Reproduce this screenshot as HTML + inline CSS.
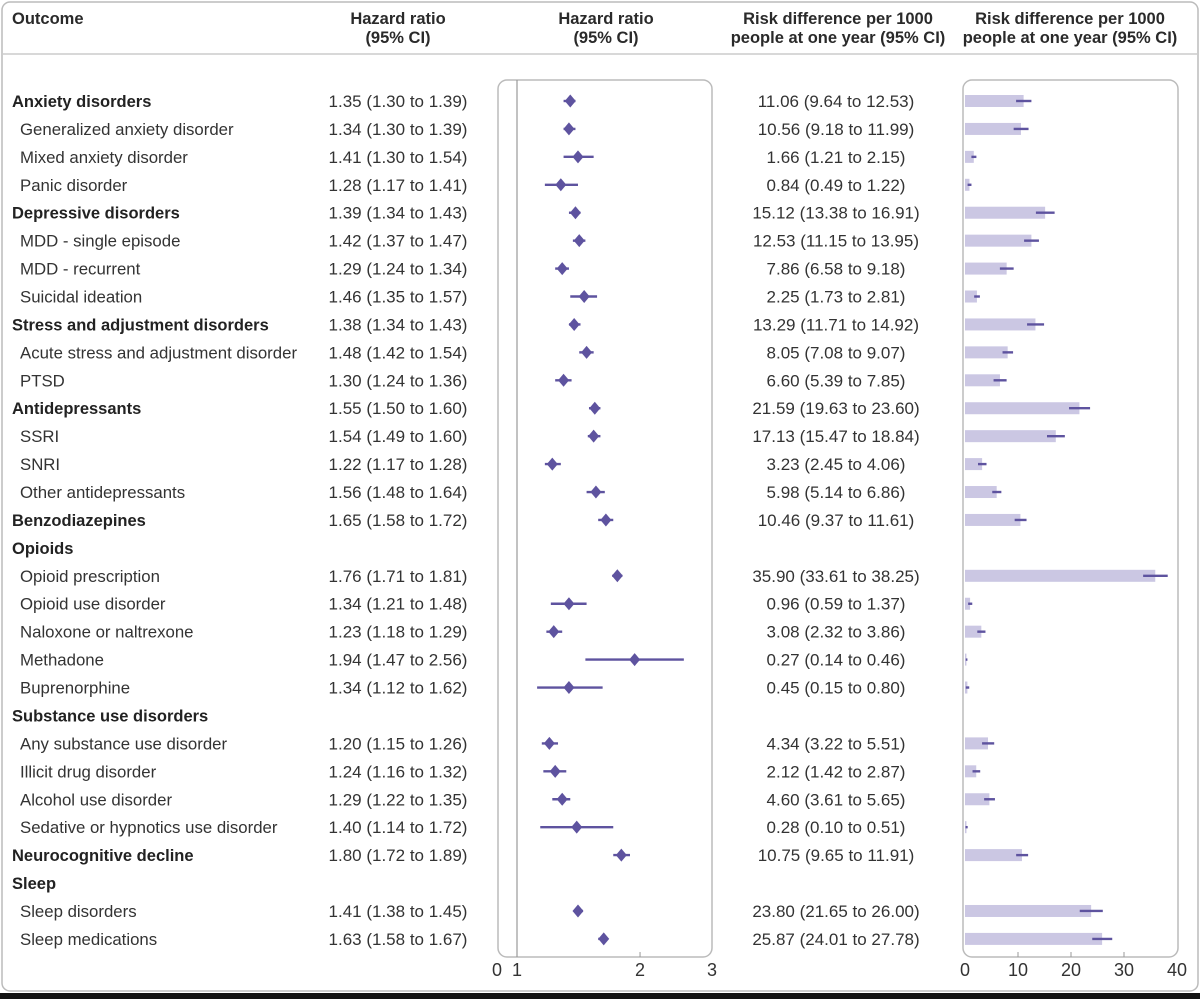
<!DOCTYPE html>
<html><head><meta charset="utf-8"><style>
html,body{margin:0;padding:0;background:#fff;}
svg{display:block;font-family:"Liberation Sans",sans-serif;}
</style></head><body>
<svg id="c" width="1200" height="999" viewBox="0 0 1200 999">
<rect x="0" y="0" width="1200" height="999" fill="#fff"/>
<rect x="2" y="2" width="1196" height="989" rx="8" fill="#fff" stroke="#bbb" stroke-width="1.5"/>
<rect x="0" y="993" width="1200" height="6" fill="#111"/>
<line x1="2" y1="54" x2="1198" y2="54" stroke="#ccc" stroke-width="1.5"/>
<g font-weight="bold" font-size="16.5" fill="#2a2a2a">
<text x="12" y="24">Outcome</text>
<text x="398" y="24" text-anchor="middle">Hazard ratio</text>
<text x="398" y="43" text-anchor="middle">(95% CI)</text>
<text x="606" y="24" text-anchor="middle">Hazard ratio</text>
<text x="606" y="43" text-anchor="middle">(95% CI)</text>
<text x="838" y="24" text-anchor="middle">Risk difference per 1000</text>
<text x="838" y="43" text-anchor="middle">people at one year (95% CI)</text>
<text x="1070" y="24" text-anchor="middle">Risk difference per 1000</text>
<text x="1070" y="43" text-anchor="middle">people at one year (95% CI)</text>
</g>
<rect x="498" y="80" width="214" height="877" rx="9" fill="none" stroke="#bbb" stroke-width="1.5"/>
<rect x="963" y="80" width="215" height="877" rx="9" fill="none" stroke="#bbb" stroke-width="1.5"/>
<g id="g"></g>
</svg>
<script>
const labels=["Anxiety disorders","Generalized anxiety disorder","Mixed anxiety disorder","Panic disorder","Depressive disorders","MDD - single episode","MDD - recurrent","Suicidal ideation","Stress and adjustment disorders","Acute stress and adjustment disorder","PTSD","Antidepressants","SSRI","SNRI","Other antidepressants","Benzodiazepines","Opioids","Opioid prescription","Opioid use disorder","Naloxone or naltrexone","Methadone","Buprenorphine","Substance use disorders","Any substance use disorder","Illicit drug disorder","Alcohol use disorder","Sedative or hypnotics use disorder","Neurocognitive decline","Sleep","Sleep disorders","Sleep medications"];
const bold=[1,0,0,0,1,0,0,0,1,0,0,1,0,0,0,1,1,0,0,0,0,0,1,0,0,0,0,1,1,0,0];
const hr=[1.35,1.34,1.41,1.28,1.39,1.42,1.29,1.46,1.38,1.48,1.30,1.55,1.54,1.22,1.56,1.65,null,1.76,1.34,1.23,1.94,1.34,null,1.20,1.24,1.29,1.40,1.80,null,1.41,1.63];
const hrLo=[1.30,1.30,1.30,1.17,1.34,1.37,1.24,1.35,1.34,1.42,1.24,1.50,1.49,1.17,1.48,1.58,null,1.71,1.21,1.18,1.47,1.12,null,1.15,1.16,1.22,1.14,1.72,null,1.38,1.58];
const hrHi=[1.39,1.39,1.54,1.41,1.43,1.47,1.34,1.57,1.43,1.54,1.36,1.60,1.60,1.28,1.64,1.72,null,1.81,1.48,1.29,2.56,1.62,null,1.26,1.32,1.35,1.72,1.89,null,1.45,1.67];
const rd=[11.06,10.56,1.66,0.84,15.12,12.53,7.86,2.25,13.29,8.05,6.60,21.59,17.13,3.23,5.98,10.46,null,35.90,0.96,3.08,0.27,0.45,null,4.34,2.12,4.60,0.28,10.75,null,23.80,25.87];
const rdLo=[9.64,9.18,1.21,0.49,13.38,11.15,6.58,1.73,11.71,7.08,5.39,19.63,15.47,2.45,5.14,9.37,null,33.61,0.59,2.32,0.14,0.15,null,3.22,1.42,3.61,0.10,9.65,null,21.65,24.01];
const rdHi=[12.53,11.99,2.15,1.22,16.91,13.95,9.18,2.81,14.92,9.07,7.85,23.60,18.84,4.06,6.86,11.61,null,38.25,1.37,3.86,0.46,0.80,null,5.51,2.87,5.65,0.51,11.91,null,26.00,27.78];
const hrTicks=[1,2,3];
const rdTicks=[0,10,20,30,40];
const NS="http://www.w3.org/2000/svg";
const g=document.getElementById('g');
function el(t,a,txt){const e=document.createElementNS(NS,t);for(const k in a)e.setAttribute(k,a[k]);if(txt!=null)e.textContent=txt;g.appendChild(e);return e;}
const xHR=v=>517+Math.log(v)*177.5;
const xRD=v=>965+v*5.3;
const yRow=i=>101+i*27.93;
const f=v=>v.toFixed(2);
const PUR="#5e539f",BAR="#cbc7e3",TXT="#333";
let r=el('line',{x1:xHR(1),y1:80,x2:xHR(1),y2:957,stroke:'#999','stroke-width':1.2});


labels.forEach((lab,i)=>{
  const y=yRow(i);
  let t=el('text',{x:bold[i]?12:20,y:y+6,'font-size':bold[i]?16.5:16.8,'font-weight':bold[i]?'bold':'normal',fill:bold[i]?'#222':TXT},lab);
  
  
  if(hr[i]==null)return;
  t=el('text',{x:398,y:y+6,'font-size':17,'text-anchor':'middle',fill:TXT},`${f(hr[i])} (${f(hrLo[i])} to ${f(hrHi[i])})`);
  
  
  t=el('text',{x:836,y:y+6,'font-size':17,'text-anchor':'middle',fill:TXT},`${f(rd[i])} (${f(rdLo[i])} to ${f(rdHi[i])})`);
  
  
  let l=el('line',{x1:xHR(hrLo[i]),y1:y,x2:xHR(hrHi[i]),y2:y,stroke:PUR,'stroke-width':2.4});
  
  
  const cx=xHR(hr[i]);
  let d=el('polygon',{points:`${cx},${y-6.5} ${cx+5.5},${y} ${cx},${y+6.5} ${cx-5.5},${y}`,fill:PUR});
  
  
  let b=el('rect',{x:xRD(0),y:y-6,width:xRD(rd[i])-xRD(0),height:12,fill:BAR});
  
  
  l=el('line',{x1:xRD(rdLo[i]),y1:y,x2:xRD(rdHi[i]),y2:y,stroke:PUR,'stroke-width':2.4});
  
  
});
let z=el('text',{x:497,y:976,'font-size':18,'text-anchor':'middle',fill:TXT},'0');


hrTicks.forEach(v=>{
  let t=el('text',{x:xHR(v),y:976,'font-size':18,'text-anchor':'middle',fill:TXT},String(v));
  
  
  if(v===2){let k=el('line',{x1:xHR(v),y1:952,x2:xHR(v),y2:957,stroke:'#999'});}
});
rdTicks.forEach(v=>{
  let t=el('text',{x:xRD(v),y:976,'font-size':18,'text-anchor':'middle',fill:TXT},String(v));
  
  
  if(v>0&&v<40){let k=el('line',{x1:xRD(v),y1:952,x2:xRD(v),y2:957,stroke:'#999'});}
});
</script>
</body></html>
